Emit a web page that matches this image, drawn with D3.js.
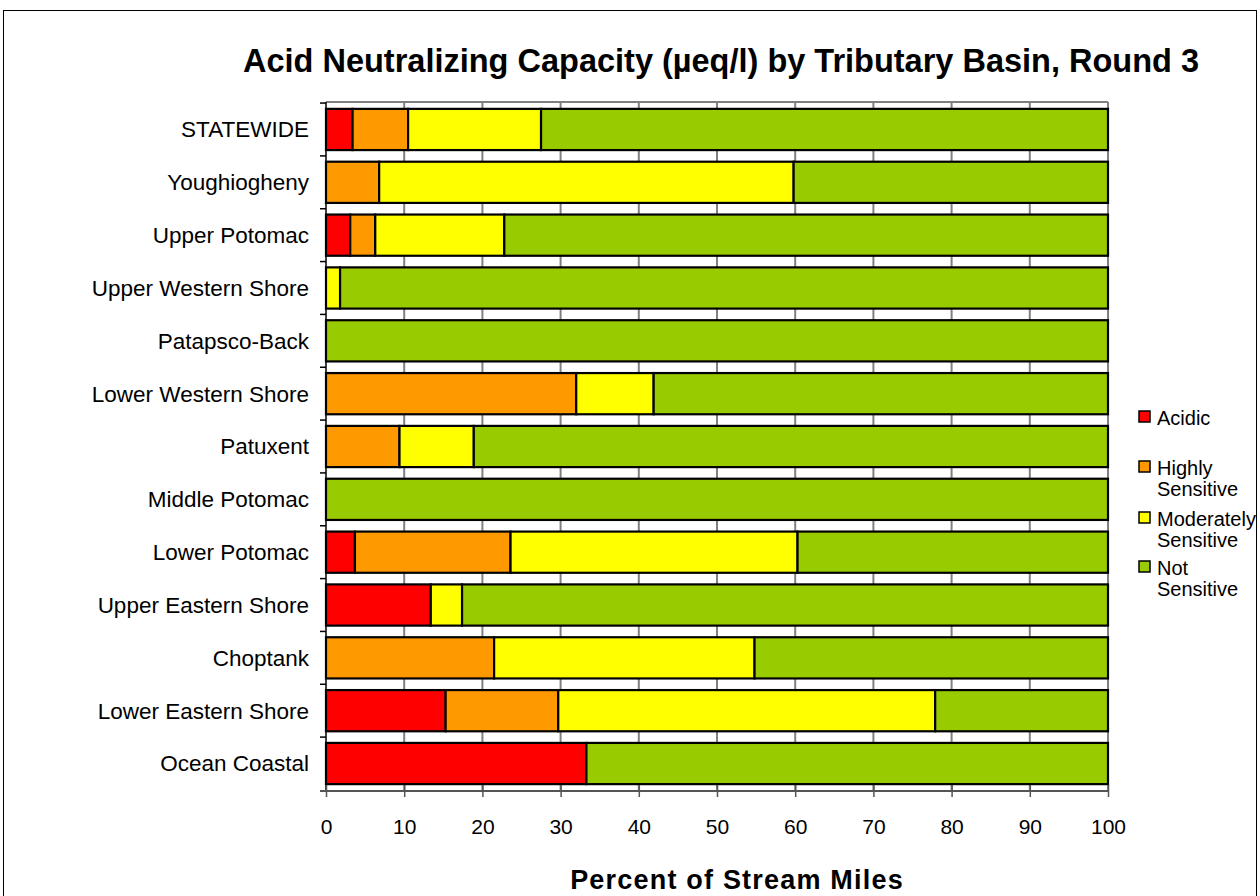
<!DOCTYPE html>
<html>
<head>
<meta charset="utf-8">
<script src="https://cdn.jsdelivr.net/npm/d3@7"></script>
<style>
  body { margin: 0; background: #fff; }
  text { font-family: Arial, "Liberation Sans", sans-serif; fill: #000; }
</style>
</head>
<body>
<svg width="1260" height="896"></svg>
<script>
// categories top to bottom
const basins = [
  "STATEWIDE", "Youghiogheny", "Upper Potomac", "Upper Western Shore",
  "Patapsco-Back", "Lower Western Shore", "Patuxent", "Middle Potomac",
  "Lower Potomac", "Upper Eastern Shore", "Choptank", "Lower Eastern Shore",
  "Ocean Coastal"
];
const classes = ["Acidic", "Highly Sensitive", "Moderately Sensitive", "Not Sensitive"];
const colors = ["#ff0000", "#ff9900", "#ffff00", "#99cc00"];

// percent of stream miles per class
const acidic     = [3.4, 0,    3.1, 0,   0, 0,    0,    0, 3.7,  13.4, 0,    15.3, 33.3];
const highly     = [7.1, 6.8,  3.2, 0,   0, 32.0, 9.4,  0, 19.9, 0,    21.5, 14.4, 0];
const moderately = [17.0, 53.0, 16.5, 1.8, 0, 9.9, 9.5, 0, 36.7, 4.0,  33.3, 48.2, 0];
const notSens    = [72.5, 40.2, 77.2, 98.2, 100, 58.1, 81.1, 100, 39.7, 82.6, 45.2, 22.1, 66.7];
const xTicks = [0, 10, 20, 30, 40, 50, 60, 70, 80, 90, 100];

const rows = basins.map((b, i) => ({
  basin: b, "Acidic": acidic[i], "Highly Sensitive": highly[i],
  "Moderately Sensitive": moderately[i], "Not Sensitive": notSens[i]
}));

const svg = d3.select("svg");
const plotLeft = 326, plotRight = 1108, plotTop = 102, plotBottom = 791;

// outer frame
svg.append("rect").attr("x", 3.5).attr("y", 10.5).attr("width", 1253).attr("height", 900)
  .attr("fill", "none").attr("stroke", "#000").attr("stroke-width", 1);

const x = d3.scaleLinear().domain([0, 100]).range([plotLeft, plotRight]);
const y = d3.scaleBand().domain(basins).range([plotTop, plotBottom]).paddingInner(0.22).paddingOuter(0.13);
const color = d3.scaleOrdinal().domain(classes).range(colors);

// gridlines
svg.append("g").selectAll("line").data(xTicks.slice(1)).join("line")
  .attr("x1", d => x(d)).attr("x2", d => x(d)).attr("y1", plotTop).attr("y2", plotBottom)
  .attr("stroke", "#808080").attr("stroke-width", 2);
svg.append("line").attr("x1", plotLeft).attr("x2", plotRight).attr("y1", plotTop).attr("y2", plotTop)
  .attr("stroke", "#808080").attr("stroke-width", 2);

// stacked bars
const series = d3.stack().keys(classes)(rows);
svg.append("g").selectAll("g").data(series).join("g")
  .attr("fill", d => color(d.key))
  .selectAll("rect").data(d => d.filter(s => s[1] - s[0] > 0)).join("rect")
  .attr("x", d => x(d[0]))
  .attr("y", d => y(d.data.basin))
  .attr("width", d => x(d[1]) - x(d[0]))
  .attr("height", y.bandwidth())
  .attr("stroke", "#000").attr("stroke-width", 2.2);

// y axis
const yAxis = svg.append("g").attr("transform", `translate(${plotLeft},0)`);
yAxis.append("line").attr("x1", 0).attr("x2", 0).attr("y1", plotTop).attr("y2", plotBottom)
  .attr("stroke", "#000").attr("stroke-width", 1.5);
const bounds = basins.map(b => y(b) - y.step() * y.paddingInner() / 2).concat([plotBottom]);
yAxis.selectAll(".tk").data(bounds).join("line")
  .attr("x1", -6).attr("x2", 0).attr("y1", d => d).attr("y2", d => d)
  .attr("stroke", "#000").attr("stroke-width", 1.5);
yAxis.selectAll("text").data(basins).join("text")
  .attr("x", -17).attr("y", d => y(d) + y.bandwidth() / 2)
  .attr("dy", "0.35em").attr("text-anchor", "end")
  .style("font-size", "22.5px").text(d => d);

// x axis
const xAxis = svg.append("g").attr("transform", `translate(0,${plotBottom})`);
xAxis.call(d3.axisBottom(x).tickValues(xTicks).tickSize(6).tickPadding(22).tickFormat(d3.format("d")));
xAxis.select(".domain").attr("stroke", "#555").attr("stroke-width", 2).attr("d", `M${plotLeft - 6},0H${plotRight}`);
xAxis.selectAll(".tick line").attr("y1", -6).attr("stroke", "#555").attr("stroke-width", 1.5);
xAxis.selectAll(".tick text").style("font-size", "21px").style("font-family", "Arial, 'Liberation Sans', sans-serif");

// titles
svg.append("text").attr("x", 721).attr("y", 72).attr("text-anchor", "middle")
  .style("font-size", "32.5px").style("font-weight", "bold")
  .text("Acid Neutralizing Capacity (µeq/l) by Tributary Basin, Round 3");
svg.append("text").attr("x", 737).attr("y", 889).attr("text-anchor", "middle")
  .style("font-size", "27px").style("font-weight", "bold").style("letter-spacing", "1.2px")
  .text("Percent of Stream Miles");

// legend
const legendRows = [
  { key: "Acidic", lines: ["Acidic"], y: 411 },
  { key: "Highly Sensitive", lines: ["Highly", "Sensitive"], y: 461 },
  { key: "Moderately Sensitive", lines: ["Moderately", "Sensitive"], y: 512 },
  { key: "Not Sensitive", lines: ["Not", "Sensitive"], y: 561 }
];
const legend = svg.append("g").attr("transform", "translate(1139,0)");
const item = legend.selectAll("g").data(legendRows).join("g")
  .attr("transform", d => `translate(0,${d.y})`);
item.append("rect").attr("width", 11).attr("height", 11)
  .attr("fill", d => color(d.key)).attr("stroke", "#000").attr("stroke-width", 1.5);
item.selectAll("text").data(d => d.lines).join("text")
  .attr("x", 18).attr("y", (d, i) => 14 + i * 21)
  .style("font-size", "20px").text(d => d);
</script>
</body>
</html>
